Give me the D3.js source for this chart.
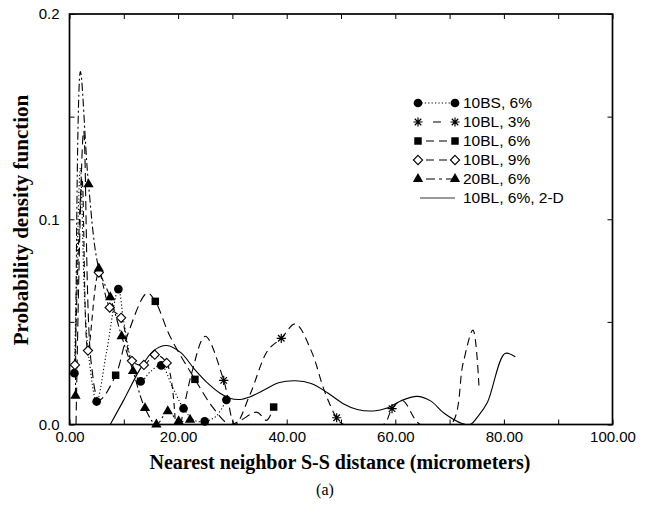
<!DOCTYPE html>
<html>
<head>
<meta charset="utf-8">
<script src="https://cdn.jsdelivr.net/npm/d3@7"></script>
<style>
  html, body { margin: 0; padding: 0; background: #fff; }
  svg { display: block; }
</style>
</head>
<body>
<svg id="chart" width="650" height="506"></svg>
<script>
// Nearest-neighbour S-S distance distributions (probability density curves).
// Each series: smoothed curve trace plus the sampled points drawn as symbols.

const xTicks = [0, 20, 40, 60, 80, 100];
const yTicks = [0, 0.1, 0.2];

const seriesNames = ["10BS, 6%", "10BL, 3%", "10BL, 6%", "10BL, 9%", "20BL, 6%", "10BL, 6%, 2-D"];

// 10BS, 6%
const bs6Curve = [[0.9,0.025],[1.3,0.07],[2.0,0.125],[2.8,0.06],[3.6,0.032],[5.0,0.0112],[6.8,0.035],[9.0,0.066],[10.0,0.05],[11.5,0.03],[13.1,0.021],[15.0,0.026],[16.9,0.0288],[19.0,0.018],[21.0,0.0078],[23.0,0.002],[24.9,0.0015],[27.0,0.004],[28.9,0.012]];
const bs6Points = [[0.9,0.025],[5.0,0.0112],[9.0,0.066],[13.1,0.021],[16.9,0.0288],[21.0,0.0078],[24.9,0.0015],[28.9,0.012]];

// 10BL, 3%
const bl3Curve = [[20.5,0.0],[22.5,0.025],[25.0,0.043],[28.4,0.0215],[30.5,0.0],[33.3,0.015],[36.5,0.036],[39.0,0.042],[41.6,0.049],[44.5,0.036],[47.0,0.016],[49.2,0.0033],[50.5,0.0],[57.8,0.0],[59.4,0.0077],[61.3,0.0117],[64.6,0.0],[70.2,0.0],[72.5,0.03],[74.3,0.046],[75.4,0.019]];
const bl3Points = [[28.4,0.0215],[39.0,0.042],[49.2,0.0033],[59.4,0.0077]];

// 10BL, 6%
const bl6Curve = [[1.2,0.0],[2.6,0.143],[4.0,0.03],[5.5,0.012],[8.5,0.024],[10.6,0.043],[14.3,0.064],[15.8,0.060],[18.5,0.043],[23.1,0.022],[26.5,0.008],[29.5,0.0],[31.5,0.002],[34.5,0.006],[36.3,0.002],[37.6,0.0085]];
const bl6Points = [[8.5,0.024],[15.8,0.060],[23.1,0.022],[37.6,0.0085]];

// 10BL, 9%
const bl9Curve = [[1.0,0.029],[2.3,0.12],[3.4,0.036],[5.4,0.074],[7.4,0.057],[9.5,0.052],[11.5,0.031],[13.7,0.029],[15.7,0.034],[17.9,0.030],[19.5,0.0]];
const bl9Points = [[1.0,0.029],[3.4,0.036],[5.4,0.074],[7.4,0.057],[9.5,0.052],[11.5,0.031],[13.7,0.029],[15.7,0.034],[17.9,0.030]];

// 20BL, 6%
const bl20Curve = [[1.1,0.014],[2.0,0.172],[3.5,0.117],[5.4,0.076],[7.5,0.062],[9.6,0.043],[11.7,0.026],[13.9,0.008],[16.0,0.0],[18.1,0.0065],[20.1,0.0016],[22.2,0.0023]];
const bl20Points = [[1.1,0.014],[3.5,0.117],[5.4,0.076],[7.5,0.062],[9.6,0.043],[11.7,0.026],[13.9,0.008],[16.0,0.0],[18.1,0.0065],[20.1,0.0016],[22.2,0.0023]];

// 10BL, 6%, 2-D
const bl6twoDCurve = [[7.5,0.0],[10,0.012],[13,0.027],[15.5,0.036],[17.9,0.0385],[20.5,0.035],[23,0.027],[25.5,0.02],[27.8,0.0151],[29.5,0.0128],[31.4,0.0122],[33.3,0.0135],[36,0.017],[38.5,0.0203],[41.6,0.0213],[44.5,0.02],[47.5,0.0155],[50.5,0.01],[53,0.0073],[56,0.0066],[58.5,0.008],[61,0.0115],[64.0,0.0137],[66.5,0.0115],[69,0.0055],[72.3,0.0005],[73.8,0.0],[75.3,0.0042],[77,0.011],[80.2,0.0346],[82.1,0.033]];

const svg = d3.select("#chart");
const plotLeft = 69.5, plotRight = 612.5, plotTop = 14, plotBottom = 424.5;

const x = d3.scaleLinear().domain([0, 100]).range([plotLeft, plotRight]);
const y = d3.scaleLinear().domain([0, 0.2]).range([plotBottom, plotTop]);

const tickFont = "Liberation Sans, Arial, Helvetica, sans-serif";
const titleFont = "Liberation Serif, Times New Roman, serif";

// clip marks to the plotting frame
svg.append("defs").append("clipPath").attr("id", "plotClip")
  .append("rect").attr("x", plotLeft).attr("y", plotTop - 2)
  .attr("width", plotRight - plotLeft).attr("height", plotBottom - plotTop + 2);

// axes with inward ticks
function styleAxis(g) {
  g.select(".domain").remove();
  g.selectAll(".tick line").attr("stroke", "#000").attr("stroke-width", 1);
  g.selectAll(".tick text").attr("fill", "#000").attr("font-family", tickFont).attr("font-size", 15);
}
const xMinor = d3.range(0, 101, 10);
const yMinor = [0, 0.05, 0.1, 0.15, 0.2];

svg.append("g").attr("transform", `translate(0,${plotBottom})`)
  .call(d3.axisBottom(x).tickValues(xMinor).tickSizeInner(-5).tickSizeOuter(0).tickPadding(7)
    .tickFormat(d => xTicks.includes(d) ? d3.format(".2f")(d) : ""))
  .call(styleAxis);
svg.append("g").attr("transform", `translate(0,${plotTop})`)
  .call(d3.axisTop(x).tickValues(xMinor).tickSizeInner(-5).tickSizeOuter(0).tickFormat(""))
  .call(styleAxis);
svg.append("g").attr("transform", `translate(${plotLeft},0)`)
  .call(d3.axisLeft(y).tickValues(yMinor).tickSizeInner(-5).tickSizeOuter(0).tickPadding(10)
    .tickFormat(d => yTicks.includes(d) ? d3.format(".1f")(d) : ""))
  .call(styleAxis);
svg.append("g").attr("transform", `translate(${plotRight},0)`)
  .call(d3.axisRight(y).tickValues(yMinor).tickSizeInner(-5).tickSizeOuter(0).tickFormat(""))
  .call(styleAxis);

// frame
svg.append("rect").attr("x", plotLeft).attr("y", plotTop)
  .attr("width", plotRight - plotLeft).attr("height", plotBottom - plotTop)
  .attr("fill", "none").attr("stroke", "#000").attr("stroke-width", 1.7);

// axis titles
svg.append("text").attr("x", 340).attr("y", 469).attr("text-anchor", "middle")
  .attr("font-family", titleFont).attr("font-weight", "bold").attr("font-size", 20)
  .text("Nearest neighbor S-S distance (micrometers)");
svg.append("text").attr("transform", "translate(28,220) rotate(-90)").attr("text-anchor", "middle")
  .attr("font-family", titleFont).attr("font-weight", "bold").attr("font-size", 21)
  .text("Probability density function");
svg.append("text").attr("x", 325).attr("y", 495).attr("text-anchor", "middle")
  .attr("font-family", titleFont).attr("font-size", 16).text("(a)");

// symbols
const sym = {
  circle: d3.symbol().type(d3.symbolCircle).size(60)(),
  square: d3.symbol().type(d3.symbolSquare).size(56)(),
  diamond: "M0,-4.6L4.6,0L0,4.6L-4.6,0Z",
  triangle: d3.symbol().type(d3.symbolTriangle).size(46)(),
  star: d3.range(4).map(i => {
    const a = i * Math.PI / 4, r = 4.6;
    return `M${-r * Math.cos(a)},${-r * Math.sin(a)}L${r * Math.cos(a)},${r * Math.sin(a)}`;
  }).join("")
};
function drawSymbol(g, kind, px, py) {
  const p = g.append("path").attr("transform", `translate(${px},${py})`).attr("d", sym[kind]);
  if (kind === "diamond") p.attr("fill", "#fff").attr("stroke", "#000").attr("stroke-width", 1.1);
  else if (kind === "star") p.attr("fill", "none").attr("stroke", "#000").attr("stroke-width", 1.2);
  else p.attr("fill", "#000");
}

const series = [
  { name: seriesNames[0], curve: bs6Curve, points: bs6Points, kind: "circle", dash: "1.2,2.2" },
  { name: seriesNames[1], curve: bl3Curve, points: bl3Points, kind: "star", dash: "8,5" },
  { name: seriesNames[2], curve: bl6Curve, points: bl6Points, kind: "square", dash: "9,5" },
  { name: seriesNames[3], curve: bl9Curve, points: bl9Points, kind: "diamond", dash: "6,4" },
  { name: seriesNames[4], curve: bl20Curve, points: bl20Points, kind: "triangle", dash: "8,3,2,3" },
  { name: seriesNames[5], curve: bl6twoDCurve, points: [], kind: null, dash: null }
];

const line = d3.line().x(d => x(d[0])).y(d => y(d[1])).curve(d3.curveCatmullRom.alpha(0.5));
const plot = svg.append("g").attr("clip-path", "url(#plotClip)");

series.forEach(s => {
  plot.append("path").datum(s.curve).attr("d", line)
    .attr("fill", "none").attr("stroke", "#000").attr("stroke-width", 1.1)
    .attr("stroke-dasharray", s.dash);
});
series.forEach(s => {
  if (!s.kind) return;
  const g = svg.append("g");
  s.points.forEach(p => drawSymbol(g, s.kind, x(p[0]), y(p[1])));
});

// legend
const legendRows = [103, 122, 141, 160, 179, 198];
const lg = svg.append("g");
series.forEach((s, i) => {
  const ly = legendRows[i];
  if (s.kind) {
    const dash = s.kind === "circle" ? "1.2,2.2"
      : s.kind === "triangle" ? "0,8,9,4,3,4,12,30"
      : s.kind === "star" ? "0,15,8,30" : "0,8,8,5,8,30";
    lg.append("line").attr("x1", 418).attr("x2", 455).attr("y1", ly).attr("y2", ly)
      .attr("stroke", "#000").attr("stroke-width", 1.1).attr("stroke-dasharray", dash);
    drawSymbol(lg, s.kind, 418, ly);
    drawSymbol(lg, s.kind, 455, ly);
  } else {
    lg.append("line").attr("x1", 420).attr("x2", 455).attr("y1", ly).attr("y2", ly)
      .attr("stroke", "#777").attr("stroke-width", 1.3);
  }
  lg.append("text").attr("x", 463).attr("y", ly).attr("dy", "0.35em")
    .attr("font-family", tickFont).attr("font-size", 15.5).attr("fill", "#000").text(s.name);
});
</script>
</body>
</html>
